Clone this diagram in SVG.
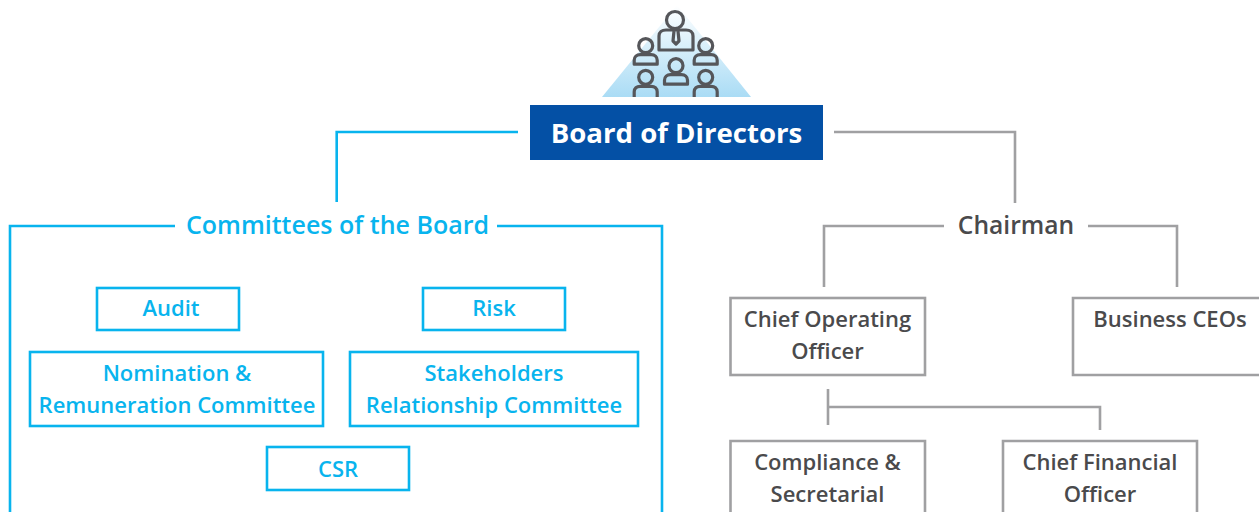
<svg xmlns="http://www.w3.org/2000/svg" width="1259" height="512" viewBox="0 0 1259 512">
<style>
text{font-family:"Open Sans","Noto Sans","Liberation Sans",sans-serif;font-weight:600;text-anchor:middle}
.b{fill:none;stroke:#08b4ee;stroke-width:2.6}
.g{fill:none;stroke:#a0a0a2;stroke-width:2.6}
.bt{fill:#08b4ee;font-size:22px}
.gt{fill:#4a4a4c;font-size:22px}
.p{fill:none;stroke:#55565a;stroke-width:3.2;stroke-linejoin:round}
</style>
<defs>
<linearGradient id="tri" x1="0" y1="0" x2="0" y2="1"><stop offset="0" stop-color="#ffffff"/><stop offset="1" stop-color="#aadcf5"/></linearGradient>
<g id="person"><circle cx="0" cy="0" r="7" class="p"/><path class="p" d="M-11.500 18.500V14.500C-11.500 11 -9 9 -5.500 9H5.500C9 9 11.500 11 11.500 14.500V18.500Z"/></g>
<g id="personOpen"><circle cx="0" cy="0" r="7" class="p"/><path class="p" d="M-11.500 19.700V14.500C-11.500 11 -9 9 -5.500 9H5.500C9 9 11.500 11 11.500 14.500V19.700"/></g>
</defs>
<g id="board-icon">
<path d="M677 5 L751 97 H602 Z" fill="url(#tri)"/>
<circle cx="675" cy="20" r="8.500" class="p"/>
<path class="p" d="M659 50V36C659 32 662 30 666 30H686C690 30 693 32 693 36V50Z"/>
<path class="p" stroke-width="2.4" d="M674 31L673 41L676 44L679 41L678 31"/>
<use href="#person" x="645.700" y="45.700"/>
<use href="#person" x="705.700" y="45.700"/>
<use href="#person" x="676" y="65.700"/>
<use href="#personOpen" x="645.700" y="77.300"/>
<use href="#personOpen" x="705.700" y="77.300"/>
</g>
<g id="connectors">
<path class="b" d="M518 132H336.700V202"/>
<path class="g" d="M834 132H1015V203"/>
<path class="g" d="M944 226H824V287"/>
<path class="g" d="M1088 226H1177V287"/>
<path class="g" d="M828 389V425M828 407H1100V430"/>
</g>
<g id="board-of-directors"><rect x="530" y="105" width="293" height="55" fill="#0450a5"/><text x="676.500" y="143" style="fill:#fff;font-weight:700;font-size:27.600px">Board of Directors</text></g>
<g id="committees-of-the-board"><path class="b" d="M175 226H10V512M497 226H662V512"/><text class="bt" x="337.500" y="234" style="font-size:25px">Committees of the Board</text></g>
<g id="audit"><rect class="b" x="97" y="288" width="142" height="42"/><text class="bt" x="171" y="316">Audit</text></g>
<g id="risk"><rect class="b" x="423" y="288" width="142" height="42"/><text class="bt" x="494" y="316">Risk</text></g>
<g id="nomination"><rect class="b" x="30" y="352" width="293" height="74"/><text class="bt" x="177" y="381">Nomination &amp;</text><text class="bt" x="177" y="413">Remuneration Committee</text></g>
<g id="stakeholders"><rect class="b" x="350" y="352" width="288" height="74"/><text class="bt" x="494" y="381">Stakeholders</text><text class="bt" x="494" y="413">Relationship Committee</text></g>
<g id="csr"><rect class="b" x="267" y="447" width="142" height="43"/><text class="bt" x="338" y="477">CSR</text></g>
<g id="chairman"><text class="gt" x="1016" y="234" style="font-size:24.600px">Chairman</text></g>
<g id="coo"><rect class="g" x="730.500" y="298" width="194.500" height="77"/><text class="gt" x="827.500" y="327">Chief Operating</text><text class="gt" x="827.500" y="359">Officer</text></g>
<g id="business-ceos"><path class="g" d="M1262 298H1073V375H1262"/><text class="gt" x="1170" y="327">Business CEOs</text></g>
<g id="compliance"><path class="g" d="M730.500 514V441H925V514"/><text class="gt" x="827.500" y="470">Compliance &amp;</text><text class="gt" x="827.500" y="502">Secretarial</text></g>
<g id="cfo"><path class="g" d="M1003 514V441H1197V514"/><text class="gt" x="1100" y="470">Chief Financial</text><text class="gt" x="1100" y="502">Officer</text></g>
</svg>
